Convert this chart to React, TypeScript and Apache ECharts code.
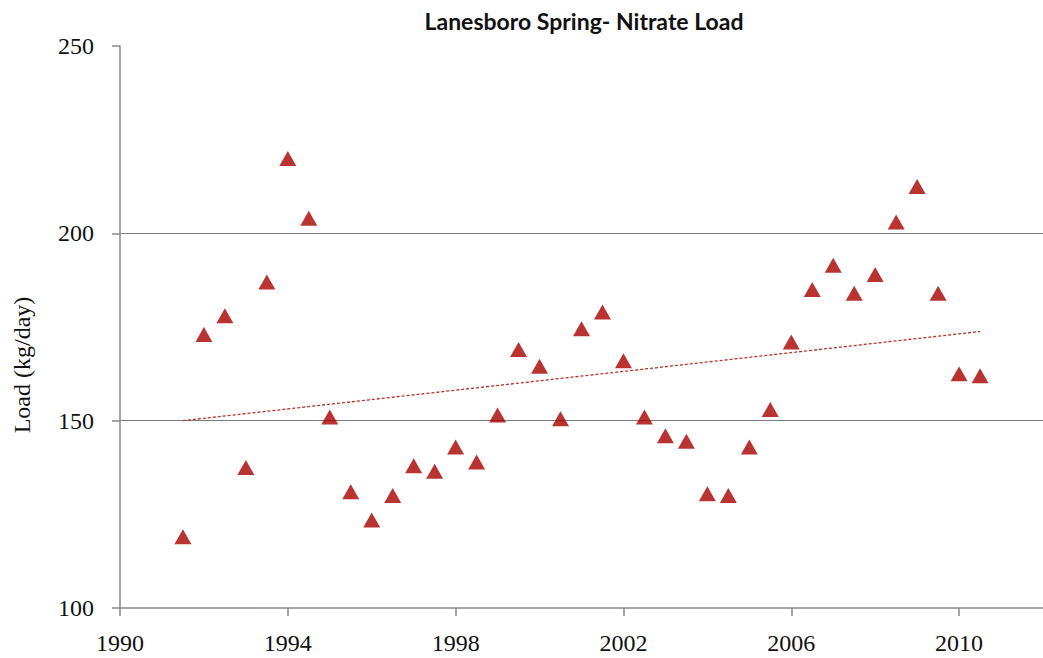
import React, { useEffect, useRef } from "react";
import * as echarts from "echarts";

const years = [
  1991.5, 1992, 1992.5, 1993, 1993.5, 1994, 1994.5, 1995, 1995.5, 1996, 1996.5,
  1997, 1997.5, 1998, 1998.5, 1999, 1999.5, 2000, 2000.5, 2001, 2001.5, 2002,
  2002.5, 2003, 2003.5, 2004, 2004.5, 2005, 2005.5, 2006, 2006.5, 2007, 2007.5,
  2008, 2008.5, 2009, 2009.5, 2010, 2010.5,
];
const loads = [
  119, 173, 178, 137.5, 187, 220, 204, 151, 131, 123.5, 130,
  138, 136.5, 143, 139, 151.5, 169, 164.5, 150.5, 174.5, 179, 166,
  151, 146, 144.5, 130.5, 130, 143, 153, 171, 185, 191.5, 184,
  189, 203, 212.5, 184, 162.5, 162,
];
const trendYears = [1991.5, 2010.5];
const trendLoads = [150, 173.8];

const xTickLabels = ["1990", "1994", "1998", "2002", "2006", "2010"];
const titleText = "Lanesboro Spring- Nitrate Load";
const yName = "Load (kg/day)";

export default function App() {
  const ref = useRef<HTMLDivElement>(null);
  useEffect(() => {
    if (!ref.current) return;
    const chart = echarts.init(ref.current, null, { renderer: "svg" });
    const serif = "Liberation Serif";
    chart.setOption({
      animation: false,
      backgroundColor: "#ffffff",
      title: {
        text: titleText,
        left: 579,
        top: 4,
        textAlign: "center",
        textStyle: { fontFamily: "Lato", fontWeight: "bold", fontSize: 23, color: "#111" },
      },
      graphic: [
        {
          type: "text",
          x: 22,
          y: 365,
          rotation: Math.PI / 2,
          style: {
            text: yName,
            fontFamily: serif,
            fontSize: 24,
            fill: "#111",
            align: "center",
            verticalAlign: "middle",
          },
        },
      ],
      grid: { left: 120, right: 0, top: 46, bottom: 50, containLabel: false },
      xAxis: {
        type: "value",
        min: 1990,
        max: 2012,
        interval: 4,
        axisLine: { show: true, lineStyle: { color: "#888", width: 1.5 } },
        axisTick: { show: true, inside: false, length: 8, lineStyle: { color: "#888", width: 1.5 } },
        splitLine: { show: false },
        axisLabel: {
          showMaxLabel: false,
          margin: 23,
          fontFamily: serif,
          fontSize: 24,
          color: "#111",
          formatter: (v: number) => (xTickLabels.includes(String(v)) ? String(v) : ""),
        },
      },
      yAxis: {
        type: "value",
        min: 100,
        max: 250,
        interval: 50,
        axisLine: { show: true, onZero: false, lineStyle: { color: "#888", width: 1.5 } },
        axisTick: { show: true, inside: false, length: 8, lineStyle: { color: "#888", width: 1.5 } },
        splitLine: {
          show: true,
          lineStyle: { color: ["rgba(0,0,0,0)", "#7a7a7a", "#7a7a7a", "rgba(0,0,0,0)"], width: 1.2 },
        },
        axisLabel: { margin: 26, fontFamily: serif, fontSize: 24, color: "#111" },
      },
      series: [
        {
          type: "line",
          data: trendYears.map((x, i) => [x, trendLoads[i]]),
          symbol: "none",
          lineStyle: { color: "#b83226", width: 1.3, type: [3, 2] },
          z: 1,
        },
        {
          type: "scatter",
          data: years.map((x, i) => [x, loads[i]]),
          symbol: "triangle",
          symbolSize: [17, 15],
          itemStyle: { color: "#a80000" },
          z: 3,
        },
      ],
    });
    return () => chart.dispose();
  }, []);
  return (
    <div
      ref={ref}
      style={{ position: "fixed", left: 0, top: 0, width: 1043, height: 658 }}
    />
  );
}
